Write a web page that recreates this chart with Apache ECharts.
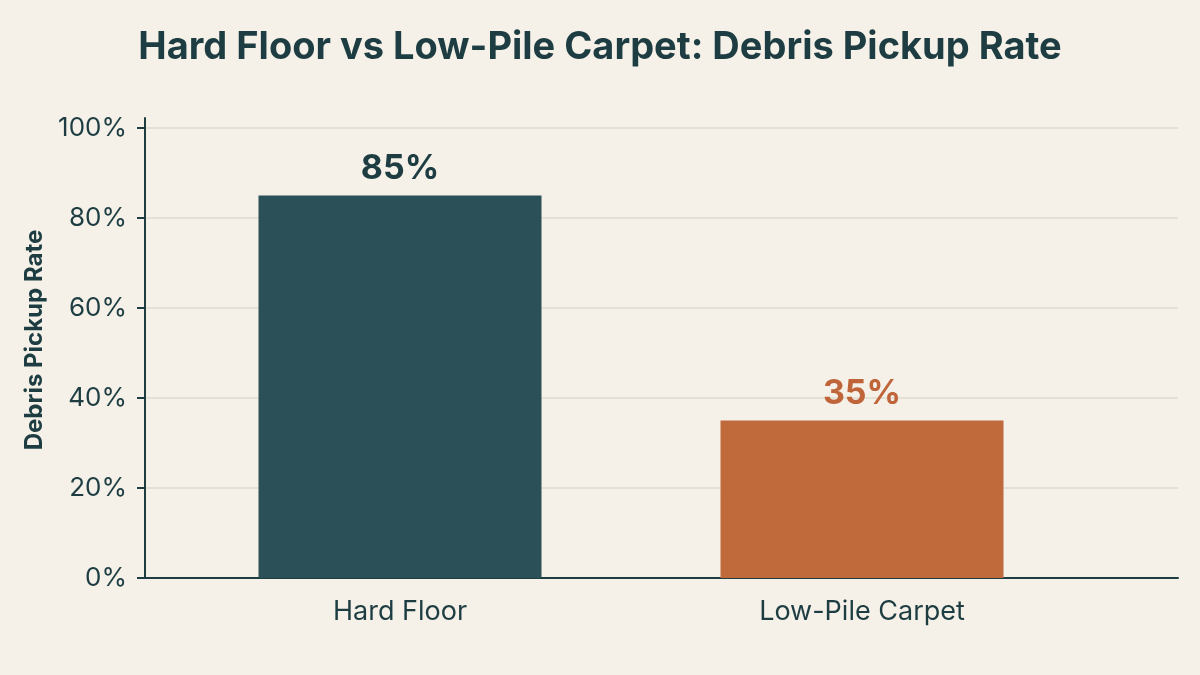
<!DOCTYPE html>
<html>
<head>
<meta charset="utf-8">
<script src="https://cdn.jsdelivr.net/npm/echarts@6/dist/echarts.min.js"></script>
<style>
  html, body { margin: 0; padding: 0; background: #f5f1e8; }
  #chart { width: 1200px; height: 675px; }
</style>
</head>
<body>
<div id="chart"></div>
<script>
const categories = ['Hard Floor', 'Low-Pile Carpet'];
const pickupRate = [85, 35];
const barColors = ['#2b5058', '#c0693b'];
const labelColors = ['#1d3d42', '#bf6539'];

const ink = '#1d3d42';
const font = 'Inter';

const chart = echarts.init(document.getElementById('chart'));
chart.setOption({
    backgroundColor: '#f5f1e8',
    animation: false,
    title: {
        text: 'Hard Floor vs Low-Pile Carpet: Debris Pickup Rate',
        left: 'center',
        top: 24,
        textStyle: {
            fontFamily: font,
            fontSize: 38,
            fontWeight: 'bold',
            color: ink
        }
    },
    grid: [
        // frame: y axis, gridlines, baseline
        { left: 145, right: 22, top: 128, bottom: 97 },
        // bars
        { left: 169, right: 107, top: 128, bottom: 97 },
        // top stub of y axis line
        { left: 145, right: 22, top: 118, bottom: 97 }
    ],
    xAxis: [
        {
            gridIndex: 0,
            type: 'category',
            data: [''],
            axisLine: { show: true, lineStyle: { color: ink, width: 2 } },
            axisTick: { show: false },
            axisLabel: { show: false }
        },
        {
            gridIndex: 1,
            type: 'category',
            data: categories,
            axisLine: { show: false },
            axisTick: { show: false },
            axisLabel: {
                margin: 20,
                fontFamily: font,
                fontSize: 27,
                color: ink
            }
        },
        {
            gridIndex: 2,
            type: 'category',
            data: [''],
            show: false
        }
    ],
    yAxis: [
        {
            gridIndex: 0,
            type: 'value',
            min: 0,
            max: 100,
            interval: 20,
            name: 'Debris Pickup Rate',
            nameLocation: 'middle',
            nameGap: 96,
            nameRotate: 90,
            nameTextStyle: {
                fontFamily: font,
                fontSize: 24,
                fontWeight: 'bold',
                color: ink,
                padding: [0, 0, 0, 26]
            },
            axisLine: { show: true, lineStyle: { color: ink, width: 2 } },
            axisTick: { show: true, length: 8, lineStyle: { color: ink, width: 2 } },
            axisLabel: {
                formatter: '{value}%',
                margin: 18,
                fontFamily: font,
                fontSize: 26,
                color: ink
            },
            splitLine: { show: true, lineStyle: { color: '#dedad0', width: 1.5 } }
        },
        {
            gridIndex: 1,
            type: 'value',
            min: 0,
            max: 100,
            show: false
        },
        {
            gridIndex: 2,
            type: 'value',
            min: 0,
            max: 100,
            axisLine: { show: true, lineStyle: { color: ink, width: 2 } },
            axisTick: { show: false },
            axisLabel: { show: false },
            splitLine: { show: false }
        }
    ],
    series: [
        {
            type: 'bar',
            xAxisIndex: 1,
            yAxisIndex: 1,
            barWidth: 283,
            data: pickupRate.map((v, i) => ({
                value: v,
                itemStyle: { color: barColors[i] },
                label: { color: labelColors[i] }
            })),
            label: {
                show: true,
                position: 'top',
                distance: 10,
                formatter: '{c}%',
                fontFamily: font,
                fontSize: 34,
                fontWeight: 'bold'
            }
        }
    ]
});
</script>
</body>
</html>
